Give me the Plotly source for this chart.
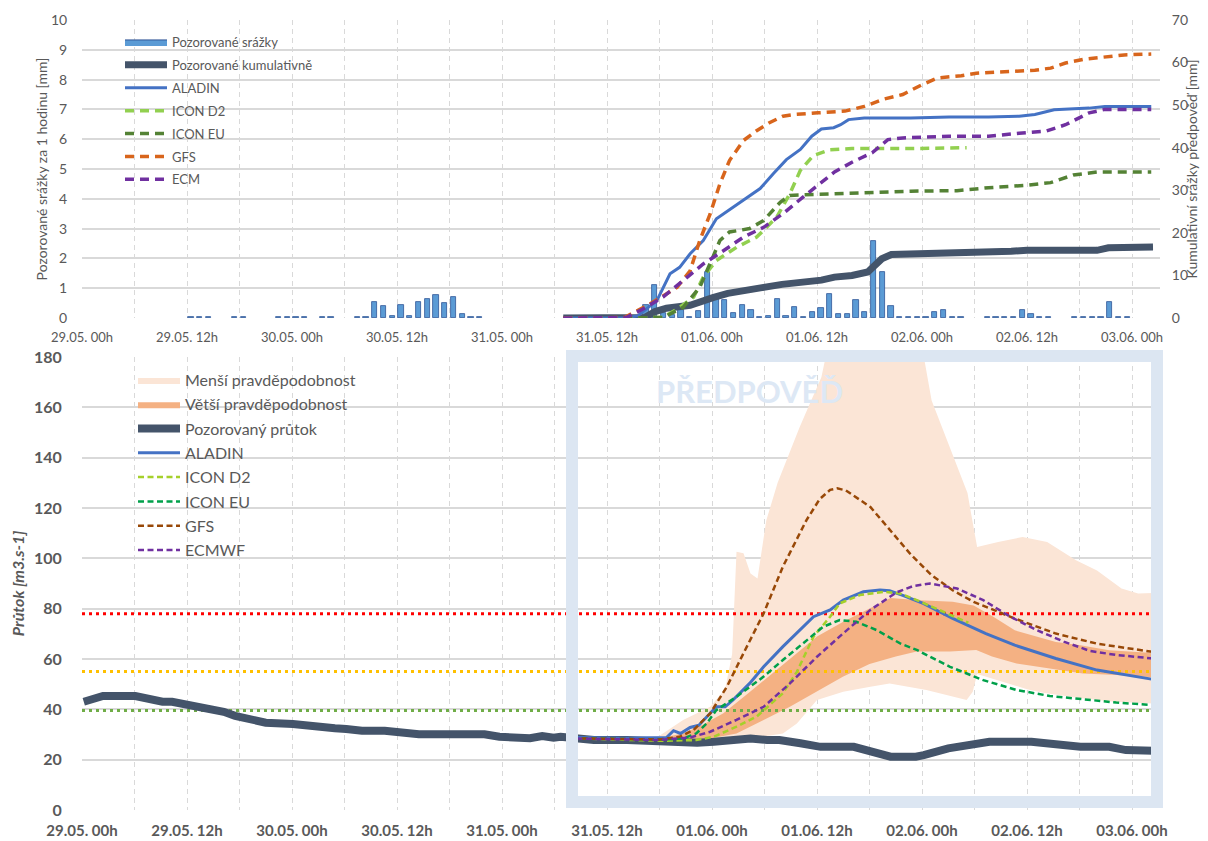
import plotly.graph_objects as go
import pandas as pd

# ---------------- DATA (hours since 29.05. 00h) ----------------
T0 = pd.Timestamp("2024-05-29 00:00")

# observed hourly precipitation [mm]
precip_hours = [12, 13, 14, 17, 18, 22, 23, 24, 25, 27, 28, 31, 32, 33, 34, 35, 36, 37, 38, 39, 40, 41,
                42, 43, 44, 45, 58, 60, 62, 63, 64, 65, 66, 67, 68, 69, 70, 71, 72, 73, 74, 75, 76, 77,
                78, 79, 80, 81, 82, 83, 84, 85, 86, 87, 88, 89, 90, 91, 92, 93, 94, 95, 96, 97, 98, 99,
                100, 103, 104, 105, 106, 107, 108, 109, 110, 113, 114, 115, 116, 117, 118, 119]
precip_mm = [0.04, 0.05, 0.03, 0.02, 0.02, 0.02, 0.02, 0.02, 0.02, 0.03, 0.05, 0.02, 0.02, 0.55, 0.40, 0.07,
             0.45, 0.07, 0.55, 0.65, 0.78, 0.50, 0.72, 0.13, 0.02, 0.02, 0.02, 0.03, 0.02, 0.05, 0.45, 1.12,
             0.17, 0.11, 0.28, 0.03, 0.23, 1.55, 0.68, 0.62, 0.17, 0.45, 0.28, 0.02, 0.08, 0.64, 0.06, 0.36,
             0.03, 0.19, 0.32, 0.80, 0.14, 0.14, 0.60, 0.20, 2.60, 1.56, 0.40, 0.03, 0.02, 0.02, 0.02, 0.21,
             0.26, 0.02, 0.02, 0.02, 0.02, 0.02, 0.02, 0.28, 0.15, 0.03, 0.03, 0.02, 0.02, 0.02, 0.02, 0.53,
             0.02, 0.02]

# cumulative precipitation [mm]
cum_obs_h = [55, 64.3, 65.5, 66.8, 69.5, 70.8, 72.1, 73.8, 75.7, 77.9, 80, 82.8, 84.5, 86, 88, 89.8, 90.6,
             91.4, 92.5, 96, 97.8, 103.6, 106.2, 108, 116, 117.3, 122.4]
cum_obs = [0, 0.1, 1.5, 2.3, 3.0, 3.7, 4.8, 5.8, 6.6, 7.2, 7.9, 8.4, 8.9, 9.6, 10.0, 10.8, 12.5, 13.9, 14.9,
           15.0, 15.4, 15.4, 15.7, 15.9, 15.9, 16.5, 16.7]

cum_aladin_h = [55, 62, 63.5, 65.7, 67.2, 68.3, 69.5, 71, 72.5, 74.4, 76.3, 77.5, 79, 80.5, 82.1, 83.4, 84.5,
                85.9, 86.7, 87.6, 89.4, 94.7, 99.1, 103.6, 107.1, 108.9, 111.1, 113.8, 115.1, 116.9, 122.2]
cum_aladin = [0, 0, 0.5, 4.1, 10.4, 11.9, 15.1, 18.2, 23.3, 26, 28.8, 30.4, 33.9, 37.2, 39.6, 42.7, 44.4,
              44.7, 45.4, 46.6, 47, 47, 47.2, 47.2, 47.4, 47.8, 48.9, 49.1, 49.3, 49.7, 49.7]

cum_icond2_h = [55, 66.4, 68, 69.9, 71, 72.5, 74.8, 77.1, 79.4, 80.9, 82.1, 83.6, 85.5, 88, 94.7, 101.1]
cum_icond2 = [0, 0.1, 2.1, 4.9, 9.6, 13.5, 16.6, 19, 23.7, 29.2, 34.7, 38.2, 39.5, 39.8, 39.8, 40]

cum_iconeu_h = [55, 66.4, 68.7, 70.6, 72.1, 72.9, 74, 76.3, 77.9, 79.8, 80.9, 84.1, 90.3, 94.7, 100, 103.6,
                108, 110.7, 113.3, 116, 122.2]
cum_iconeu = [0, 0.1, 2.5, 7.2, 14.3, 18.2, 20.2, 21, 22.9, 27.2, 28.8, 29, 29.4, 29.8, 29.9, 30.6, 31.2,
              31.8, 33.6, 34.3, 34.3]

cum_gfs_h = [55, 62, 64.9, 68, 69.5, 70.6, 71.8, 72.9, 74, 75.6, 77.1, 78.5, 80.1, 81.4, 84.1, 87.2, 89.4,
             91.6, 93.8, 96, 97.8, 100.5, 102.2, 105.8, 108.9, 110.7, 112.4, 114.6, 116.9, 119.1, 122.2]
cum_gfs = [0, 0.1, 3.3, 7.2, 11.1, 18.2, 24.5, 31.5, 37, 41.7, 44, 45.8, 47.4, 47.8, 48.2, 48.6, 49.7, 51.4,
           52.5, 54.8, 56.4, 56.9, 57.5, 57.9, 58.2, 58.7, 59.9, 60.8, 61.4, 61.8, 62]

cum_ecm_h = [55, 62.2, 64.1, 66.4, 68.7, 71, 73.3, 75.6, 77.9, 80.1, 82.4, 84.7, 86, 88.1, 90.3, 92.1, 93.8,
             99.1, 103.6, 107.1, 110.2, 112.4, 115.1, 116.9, 122.2]
cum_ecm = [0, 0.1, 2.1, 4.9, 8.8, 12.7, 15.8, 19, 21.3, 24.5, 28.4, 32.3, 34.3, 36.7, 38.8, 41.9, 42.3, 42.7,
           42.7, 43.4, 43.9, 45.4, 48.2, 49, 49]

# discharge [m3/s]
flow_obs_h = [0.2, 2.4, 6.1, 7.4, 9.2, 10.3, 12.3, 13.6, 16.2, 17.5, 19.3, 21, 24.1, 25.8, 27.2, 28.9, 30.2,
              32, 34.6, 36.4, 38.5, 42, 46, 47.7, 49.5, 51.2, 52.6, 53.9, 54.7, 56.6, 58.5, 62.3, 66, 70.3,
              72.2, 74.5, 76.4, 78.3, 79.7, 82.1, 84.4, 88.2, 90, 92.4, 95.3, 96.2, 99, 101.9, 103.7, 108.5,
              111.3, 114.1, 117.4, 119.3, 122.4]
flow_obs = [43.0, 45.3, 45.3, 44.0, 43.0, 43.0, 41.7, 40.8, 39.0, 37.4, 36.4, 34.7, 34.2, 33.4, 33.5, 32.5,
            32.2, 31.5, 31.5, 30.9, 30.1, 30.1, 30.1, 29.1, 28.5, 28.5, 29.4, 28.7, 29.1, 28.4, 27.8, 27.8,
            27.1, 26.7, 27.1, 27.8, 28.4, 27.8, 27.8, 26.5, 25.1, 25.1, 23.1, 21.2, 21.2, 21.8, 24.5, 25.8,
            27.1, 27.1, 25.8, 25.1, 25.1, 23.8, 23.5]

flow_aladin_h = [56.6, 62, 66.8, 67.6, 68.4, 69.5, 70.5, 71.4, 72.5, 73.5, 74.4, 76.3, 77.9, 80.1, 82, 83.6,
                 85.5, 87, 89.3, 91.2, 92.3, 93.8, 96.2, 99.5, 103.3, 106.6, 111.3, 116, 122.4]
flow_aladin = [28.8, 28.5, 28.8, 31.5, 30.4, 32.8, 33.7, 37.1, 41, 41, 43.7, 50.3, 56.9, 64.9, 71.5, 76.8,
               79.5, 83.4, 86.7, 87.4, 87.1, 85.3, 82, 76.1, 70.1, 65.5, 60.2, 55.6, 51.9]

flow_icond2_h = [56, 66.1, 70.2, 72.2, 74.8, 77.1, 80.1, 81.7, 83.6, 85.5, 86.6, 88.9, 91.6, 93.5, 95.4,
                 98.4, 101.3]
flow_icond2 = [28.5, 27.5, 27.8, 29.1, 33.1, 37.1, 46.4, 54.9, 68.9, 76.8, 82.1, 85.4, 86.7, 86, 83.4, 78.7,
               74.4]

flow_iconeu_h = [56, 66, 68.7, 70.2, 71.4, 72.5, 74.8, 77.9, 80.1, 82.4, 84.7, 86.6, 88.5, 90.8, 93.5, 95.4,
                 99.2, 103, 106.8, 110.6, 114.4, 118.2, 122.4]
flow_iconeu = [28.5, 28, 28.4, 30.4, 34.4, 39.7, 45, 53, 59.6, 66.2, 72.8, 75.5, 74.8, 71.5, 66.2, 63.6,
               56.9, 51.6, 47.7, 45.3, 43.9, 42.7, 41.7]

flow_gfs_h = [56, 66, 68.3, 69.9, 71.8, 73.7, 75.6, 77.9, 80.1, 82.8, 84.3, 85.5, 86.3, 87.3, 90.1, 92.4,
              94.8, 97.1, 99.5, 101.9, 104.2, 106.6, 111.3, 116, 122.4]
flow_gfs = [28.5, 28, 29.1, 31.8, 38.4, 49, 62.3, 78.1, 96.7, 115.2, 123.5, 127.2, 127.8, 127, 120.4, 111.1,
            101.2, 93.3, 87.3, 82.7, 79.4, 76.1, 70.1, 66.1, 62.8]

flow_ecmwf_h = [56.5, 65.7, 69.5, 71.8, 74.8, 77.9, 80.9, 84, 87, 90.1, 93.1, 95, 96.9, 100, 103, 106.1,
                109.1, 112.2, 115.2, 118.2, 122.4]
flow_ecmwf = [28.4, 27.8, 28.8, 31.1, 35.8, 41, 50.3, 60.9, 70.2, 79.5, 86.5, 89, 90, 88, 83.4, 76.8, 71.5,
              66.9, 63.2, 61.6, 60.2]

# probability bands
low_upper_h = [58, 64, 66, 68.7, 71.8, 73.5, 74.3, 74.8, 75.6, 76.4, 77.2, 78.2, 79.5, 80.6, 82, 83, 84.5,
               85.6, 95.7, 97.1, 99.5, 101.2, 101.6, 102.3, 104.7, 107.5, 110.3, 113.6, 116, 118.8, 120.7,
               122.4]
low_upper = [28.5, 28.5, 29.5, 35.8, 41, 48, 62, 102.6, 102, 94, 92, 115, 130, 140, 152, 160, 172, 190, 190,
             162.7, 141.5, 126, 118, 104.5, 106.5, 108.5, 106.5, 99.2, 95.2, 88, 86, 86.2]
low_lower_h = [58, 66, 71.7, 74.8, 77.5, 80.1, 81.7, 84, 87, 90.1, 92.3, 96.5, 101.1, 101.8, 102.3, 104, 106,
               108, 110, 114, 118, 122.4]
low_lower = [28, 27.5, 27.5, 28.4, 29, 30.4, 34.4, 43.7, 47, 49, 50.3, 47.7, 43.7, 47, 54, 52, 50, 48, 46.5,
             44.5, 43, 42.3]

high_upper_h = [66, 68.7, 71, 73.3, 76, 79.4, 81.7, 84, 87, 90, 92.4, 95.7, 99.5, 101.9, 104.2, 106.6, 111.3,
                114.1, 117.4, 122.4]
high_upper = [28.5, 30.4, 34, 38.4, 46, 55.6, 62.2, 68.9, 74.8, 80, 84.2, 83.3, 82.7, 81.3, 76.7, 71.4, 66.8,
              65.5, 63.5, 62.4]
high_lower_h = [66, 71.8, 74.8, 77.9, 80.9, 84, 87, 90, 93, 95.4, 99.2, 102.2, 104, 106.8, 110.6, 114.4,
                118.2, 122.4]
high_lower = [27.8, 28.4, 30.4, 35.8, 41, 47, 53, 58, 61, 63, 63, 63.6, 61, 58.2, 56.2, 54.2, 53.6, 52.7]

# flood thresholds [m3/s]
thresholds = [78, 55, 39.5]
threshold_colors = ["#ff0000", "#ffc000", "#70ad47"]

# ---------------- helpers / styles ----------------
H = 3600 * 1000  # one hour in ms


def t(hours):
    return [T0 + pd.Timedelta(hours=h) for h in hours]


X_END = T0 + pd.Timedelta(hours=123.2)
FONT = "Lato, 'Open Sans', sans-serif"
GRAY = "#595959"
GRID = "#d9d9d9"
OBS = "#44546a"
CLEAR = "rgba(0,0,0,0)"

fig = go.Figure()

# ---- top chart ----
# legend sample for the bars (wide outlined rectangle)
fig.add_trace(go.Scatter(x=[None], y=[None], name="Pozorované srážky", mode="lines", fill="toself",
                         fillcolor="#5b9bd5", line=dict(color="#2f5597", width=1),
                         xaxis="x", yaxis="y", legend="legend", legendgroup="t1"))
fig.add_trace(go.Bar(x=t(precip_hours), y=precip_mm, name="Pozorované srážky", showlegend=False,
                     marker=dict(color="#5b9bd5", line=dict(color="#2f5597", width=0.8)),
                     width=0.6 * H, offset=0.15 * H, xaxis="x", yaxis="y", legendgroup="t1"))
top_lines = [
    ("Pozorované kumulativně", cum_obs_h, cum_obs, OBS, 7, "solid"),
    ("ALADIN", cum_aladin_h, cum_aladin, "#4472c4", 3, "solid"),
    ("ICON D2", cum_icond2_h, cum_icond2, "#92d050", 3.5, "9px,6px"),
    ("ICON EU", cum_iconeu_h, cum_iconeu, "#548235", 3.5, "9px,6px"),
    ("GFS", cum_gfs_h, cum_gfs, "#d8651c", 3.5, "9px,6px"),
    ("ECM", cum_ecm_h, cum_ecm, "#7030a0", 3.5, "9px,6px"),
]
for i, (name, hh, vv, col, w, dash) in enumerate(top_lines):
    fig.add_trace(go.Scatter(x=t(hh), y=vv, name=name, mode="lines",
                             line=dict(color=col, width=w, dash=dash),
                             xaxis="x", yaxis="y3", legend="legend", legendgroup=f"t{i+2}"))

# ---- bottom chart ----
fig.add_trace(go.Scatter(x=t(low_upper_h + low_lower_h[::-1]), y=low_upper + low_lower[::-1],
                         fill="toself", fillcolor="#fbe5d6", line=dict(width=0), mode="lines",
                         name="Menší pravděpodobnost", xaxis="x2", yaxis="y2", legend="legend2",
                         legendgroup="b1"))
fig.add_trace(go.Scatter(x=t(high_upper_h + high_lower_h[::-1]), y=high_upper + high_lower[::-1],
                         fill="toself", fillcolor="#f4b183", line=dict(width=0), mode="lines",
                         name="Větší pravděpodobnost", xaxis="x2", yaxis="y2", legend="legend2",
                         legendgroup="b2"))
for val, col in zip(thresholds, threshold_colors):
    fig.add_trace(go.Scatter(x=[T0, X_END], y=[val, val], mode="lines",
                             line=dict(color=col, width=3, dash="3px,4px"),
                             showlegend=False, hoverinfo="skip", xaxis="x2", yaxis="y2"))

bottom_lines = [
    ("Pozorovaný průtok", flow_obs_h, flow_obs, OBS, 8, "solid"),
    ("ALADIN", flow_aladin_h, flow_aladin, "#4472c4", 3, "solid"),
    ("ICON D2", flow_icond2_h, flow_icond2, "#a5d02a", 2.5, "6px,3.5px"),
    ("ICON EU", flow_iconeu_h, flow_iconeu, "#00a04a", 2.5, "6px,3.5px"),
    ("GFS", flow_gfs_h, flow_gfs, "#984807", 2.5, "6px,3.5px"),
    ("ECMWF", flow_ecmwf_h, flow_ecmwf, "#7030a0", 2.5, "6px,3.5px"),
]
for i, (name, hh, vv, col, w, dash) in enumerate(bottom_lines):
    fig.add_trace(go.Scatter(x=t(hh), y=vv, name=name, mode="lines",
                             line=dict(color=col, width=w, dash=dash),
                             xaxis="x2", yaxis="y2", legend="legend2", legendgroup=f"b{i+3}"))

# ---------------- layout ----------------
# the page body has an 8px margin; figure placed so the page matches 1208x841
BODY = 8
W, HGT = 1192, 833
ML, MR, MT, MB = 74, 40, 12, 31
PW, PH = W - ML - MR, HGT - MT - MB


def px_x(x_page):
    return (x_page - BODY - ML) / PW


def px_y(y_page):
    return (HGT - MB - (y_page - BODY)) / PH


xcommon = dict(type="date", range=[T0, X_END], tick0=T0, dtick=12 * H, tickformat="%d.%m. %Hh",
               showgrid=True, gridcolor=GRID, gridwidth=1, griddash="5px,4px",
               minor=dict(dtick=6 * H, showgrid=True, gridcolor=GRID, gridwidth=1, griddash="5px,4px"),
               zeroline=False, showline=False, ticks="outside", ticklen=7, tickcolor=CLEAR)

fig.update_layout(
    width=W, height=HGT,
    margin=dict(l=ML, r=MR, t=MT, b=MB, autoexpand=False),
    paper_bgcolor="white", plot_bgcolor="white",
    font=dict(family=FONT, color=GRAY),
    showlegend=True,
    bargap=0,
    xaxis=dict(**xcommon, domain=[0, 1], anchor="y",
               tickfont=dict(size=13, color=GRAY)),
    yaxis=dict(domain=[px_y(318), 1], range=[0, 10], dtick=1, showgrid=True, gridcolor=GRID,
               gridwidth=1.5, zeroline=False, tickfont=dict(size=14, color=GRAY),
               ticks="outside", ticklen=11, tickcolor=CLEAR,
               title=dict(text="Pozorované srážky za 1 hodinu [mm]", font=dict(size=14, color=GRAY),
                          standoff=0)),
    yaxis3=dict(overlaying="y", side="right", anchor="x", range=[0, 70], dtick=10, showgrid=False,
                zeroline=False, tickfont=dict(size=14, color=GRAY),
                ticks="outside", ticklen=8, tickcolor=CLEAR,
                title=dict(text="Kumulativní srážky předpověď [mm]", font=dict(size=14, color=GRAY),
                           standoff=7)),
    xaxis2=dict(**xcommon, domain=[0, 1], anchor="y2",
                tickfont=dict(size=15, color=GRAY, weight="bold")),
    yaxis2=dict(domain=[0, px_y(357)], range=[0, 180], dtick=20, showgrid=True, gridcolor=GRID,
                gridwidth=1.5, zeroline=False, ticks="outside", ticklen=16, tickcolor=CLEAR,
                tickfont=dict(size=16, color=GRAY, weight="bold"),
                title=dict(text="Průtok [m3.s-1]", standoff=8,
                           font=dict(size=16, color=GRAY, weight="bold", style="italic"))),
    legend=dict(x=px_x(120), y=px_y(27), xanchor="left", yanchor="top", bgcolor=CLEAR,
                font=dict(size=13, color=GRAY), itemwidth=42, traceorder="grouped",
                tracegroupgap=3),
    legend2=dict(x=px_x(133), y=px_y(363), xanchor="left", yanchor="top", bgcolor=CLEAR,
                 font=dict(size=16, color=GRAY), itemwidth=42, traceorder="grouped",
                 tracegroupgap=0.5),
    shapes=[
        # white backgrounds behind the legends (hide gridlines)
        dict(type="rect", xref="paper", yref="paper", x0=px_x(83), x1=px_x(345), y0=px_y(190),
             y1=px_y(34), fillcolor="white", line=dict(width=0), layer="between"),
        dict(type="rect", xref="paper", yref="paper", x0=px_x(83), x1=px_x(420), y0=px_y(568),
             y1=px_y(363), fillcolor="white", line=dict(width=0), layer="between"),
        # forecast frame
        dict(type="rect", xref="paper", yref="paper", x0=px_x(572), x1=px_x(1157), y0=px_y(802),
             y1=px_y(356), line=dict(color="#dce6f2", width=12), fillcolor=CLEAR,
             layer="above"),
    ],
    annotations=[
        dict(text="PŘEDPOVĚĎ", xref="paper", yref="paper", x=px_x(845), y=px_y(391),
             showarrow=False, font=dict(size=31, color="#dde8f5", weight="bold", family=FONT)),
    ],
)

fig.write_html("out.html")
